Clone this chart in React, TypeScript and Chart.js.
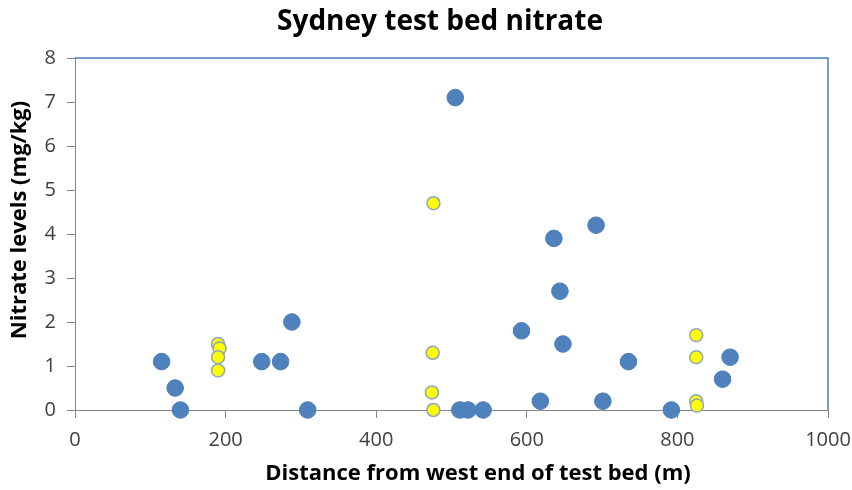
import React, { useEffect, useRef } from "react";
import { Chart, registerables } from "chart.js";

Chart.register(...registerables);

const TITLE = "Sydney test bed nitrate";
const X_TITLE = "Distance from west end of test bed (m)";
const Y_TITLE = "Nitrate levels (mg/kg)";

const blueX = [115, 133, 140, 248, 273, 288, 309, 505, 511, 522, 542, 593, 618, 636, 644, 648, 692, 701, 735, 792, 860, 870];
const blueY = [1.1, 0.5, 0, 1.1, 1.1, 2.0, 0, 7.1, 0, 0, 0, 1.8, 0.2, 3.9, 2.7, 1.5, 4.2, 0.2, 1.1, 0, 0.7, 1.2];

const yellowX = [190, 192, 190, 190, 476, 475, 474, 476, 825, 825, 825, 826];
const yellowY = [1.5, 1.4, 1.2, 0.9, 4.7, 1.3, 0.4, 0, 1.7, 1.2, 0.2, 0.1];

const X_MIN = 0;
const X_MAX = 1000;
const X_STEP = 200;
const Y_MIN = 0;
const Y_MAX = 8;
const Y_STEP = 1;

const FONT = "'Open Sans', Lato, sans-serif";

const plotBorder = {
  id: "plotBorder",
  beforeDatasetsDraw(chart: any) {
    const { ctx, chartArea } = chart;
    ctx.save();
    ctx.strokeStyle = "#4A7EBB";
    ctx.lineWidth = 1.5;
    ctx.beginPath();
    ctx.moveTo(chartArea.left, chartArea.top);
    ctx.lineTo(chartArea.right, chartArea.top);
    ctx.lineTo(chartArea.right, chartArea.bottom);
    ctx.stroke();
    ctx.restore();
  },
};

const chartTexts = {
  id: "chartTexts",
  afterDraw(chart: any) {
    const { ctx } = chart;
    ctx.save();
    ctx.fillStyle = "#000000";
    ctx.textAlign = "center";
    ctx.textBaseline = "middle";
    ctx.font = `bold 28px ${FONT}`;
    ctx.fillText(TITLE, 440, 22);
    ctx.font = `bold 22px ${FONT}`;
    ctx.fillText(X_TITLE, 478, 474);
    ctx.translate(20, 220);
    ctx.rotate(-Math.PI / 2);
    ctx.fillText(Y_TITLE, 0, 0);
    ctx.restore();
  },
};

export default function App() {
  const ref = useRef<HTMLCanvasElement | null>(null);

  useEffect(() => {
    if (!ref.current) return;
    const chart = new Chart(ref.current, {
      type: "scatter",
      data: {
        datasets: [
          {
            label: "Series 1",
            data: blueX.map((x, i) => ({ x, y: blueY[i] })),
            backgroundColor: "#4F81BD",
            borderColor: "#4A7EBB",
            borderWidth: 1,
            pointRadius: 8.3,
            clip: false,
            order: 1,
          },
          {
            label: "Series 2",
            data: yellowX.map((x, i) => ({ x, y: yellowY[i] })),
            backgroundColor: "#FFFF00",
            borderColor: "#8CA6BE",
            borderWidth: 1.5,
            pointRadius: 6.5,
            clip: false,
            order: 0,
          },
        ],
      },
      options: {
        responsive: false,
        animation: false,
        events: [],
        layout: { padding: { left: 0, right: 24, top: 58, bottom: 0 } },
        plugins: {
          legend: { display: false },
          tooltip: { enabled: false },
          title: { display: false },
        },
        scales: {
          x: {
            type: "linear",
            min: X_MIN,
            max: X_MAX,
            afterFit(scale: any) {
              scale.height = 80;
              scale.paddingLeft = 0;
              scale.paddingRight = 0;
            },
            ticks: {
              stepSize: X_STEP,
              color: "#404040",
              font: { family: FONT, size: 20 },
              padding: 10,
              maxRotation: 0,
              callback: (v: any) => String(v),
            },
            grid: {
              drawOnChartArea: false,
              drawTicks: true,
              tickLength: 8,
              tickColor: "#868686",
            },
            border: { display: true, color: "#868686", width: 1 },
          },
          y: {
            type: "linear",
            min: Y_MIN,
            max: Y_MAX,
            afterFit(scale: any) {
              scale.width = 75;
              scale.paddingTop = 0;
              scale.paddingBottom = 0;
            },
            ticks: {
              stepSize: Y_STEP,
              color: "#404040",
              font: { family: FONT, size: 20 },
              padding: 11,
            },
            grid: {
              drawOnChartArea: false,
              drawTicks: true,
              tickLength: 8,
              tickColor: "#868686",
            },
            border: { display: true, color: "#868686", width: 1 },
          },
        },
      },
      plugins: [plotBorder, chartTexts],
    });
    return () => chart.destroy();
  }, []);

  return (
    <div style={{ position: "fixed", left: 0, top: 0, width: 852, height: 490, background: "#ffffff" }}>
      <canvas ref={ref} width={852} height={490} style={{ display: "block" }} />
    </div>
  );
}
